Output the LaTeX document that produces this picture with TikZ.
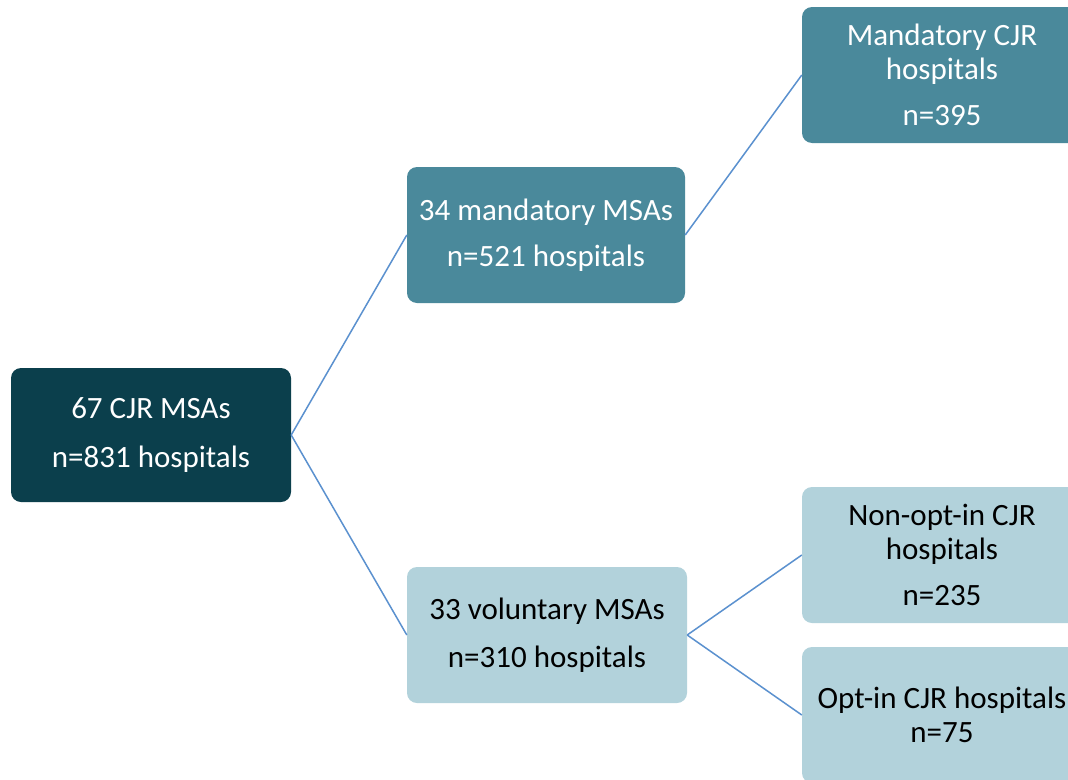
\documentclass[tikz,border=0pt]{standalone}
\usepackage{fontspec}
\setmainfont{Carlito}
\definecolor{rootfill}{HTML}{0B3F4C}
\definecolor{mandfill}{HTML}{4A899B}
\definecolor{volfill}{HTML}{B2D2DB}
\definecolor{linkblue}{HTML}{5B91CF}
\tikzset{
  box/.style={rounded corners=10pt, minimum width=280pt, minimum height=136pt,
    align=center, inner sep=0pt, font=\fontsize{31}{34}\selectfont},
  rootbox/.style={box, fill=rootfill, text=white, minimum height=134pt},
  mandbox/.style={box, fill=mandfill, text=white, minimum width=278pt},
  volbox/.style={box, fill=volfill, text=black},
  link/.style={draw=linkblue, line width=1.5pt}
}
\begin{document}
\begin{tikzpicture}[x=1pt,y=-1pt]
  \fill[white] (0,0) rectangle (1068,779);
  \useasboundingbox (0,0) rectangle (1068,779);
  \clip (0,0) rectangle (1068,779);
  % boxes
  \node[rootbox] (root) at (151,435) {67 CJR MSAs\\[15pt]n=831 hospitals};
  \node[mandbox] (mand) at (546,235) {34 mandatory MSAs\\[12pt]n=521 hospitals};
  \node[volbox] (vol) at (547,635) {33 voluntary MSAs\\[14pt]n=310 hospitals};
  \node[mandbox, minimum width=280pt] (mandcjr) at (942,75) {Mandatory CJR\\hospitals\\[12pt]n=395};
  \node[volbox] (nonopt) at (942,555) {Non-opt-in CJR\\hospitals\\[12pt]n=235};
  \node[volbox] (optin) at (942,715) {Opt-in CJR hospitals\\n=75};
  % links
  \draw[link] (root.east) -- (mand.west);
  \draw[link] (root.east) -- (vol.west);
  \draw[link] (mand.east) -- (mandcjr.west);
  \draw[link] (vol.east) -- (nonopt.west);
  \draw[link] (vol.east) -- (optin.west);
\end{tikzpicture}
\end{document}
